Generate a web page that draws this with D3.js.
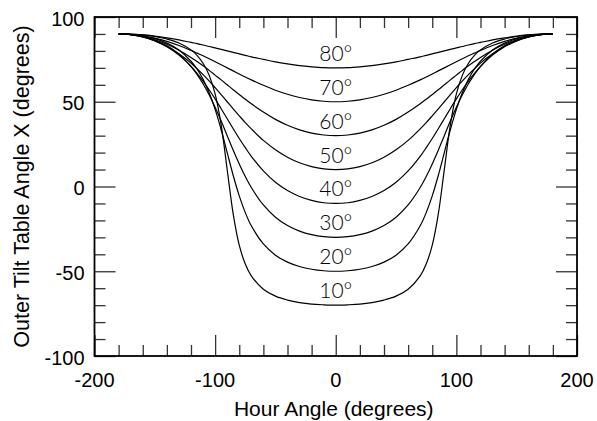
<!DOCTYPE html>
<html>
<head>
<meta charset="utf-8">
<script src="https://cdn.jsdelivr.net/npm/d3@7"></script>
<style>
  html, body { margin: 0; padding: 0; background: #fff; }
  svg { display: block; }
</style>
</head>
<body>
<svg id="chart" width="597" height="421"></svg>
<script>
// ---- data ----
const hourAngle = [-180,-170,-160,-150,-140,-130,-120,-115,-110,-105,-100,-95,-90,-85,-80,-75,-70,-60,-50,-40,-30,-20,-10,0,10,20,30,40,50,60,70,75,80,85,90,95,100,105,110,115,120,130,140,150,160,170,180];
const latitudes = [10, 20, 30, 40, 50, 60, 70, 80];
const lat10 = [90.0,89.8,89.4,88.5,87.0,84.7,80.6,77.4,72.7,65.7,54.6,36.3,10.0,-16.3,-34.6,-45.7,-52.7,-60.6,-64.7,-67.0,-68.5,-69.4,-69.8,-70.0,-69.8,-69.4,-68.5,-67.0,-64.7,-60.6,-52.7,-45.7,-34.6,-16.3,10.0,36.3,54.6,65.7,72.7,77.4,80.6,84.7,87.0,88.5,89.4,89.8,90.0];
const lat20 = [90.0,89.7,88.8,87.2,84.6,80.5,73.9,69.3,63.2,55.4,45.5,33.5,20.0,6.5,-5.5,-15.4,-23.2,-33.9,-40.5,-44.6,-47.2,-48.8,-49.7,-50.0,-49.7,-48.8,-47.2,-44.6,-40.5,-33.9,-23.2,-15.4,-5.5,6.5,20.0,33.5,45.5,55.4,63.2,69.3,73.9,80.5,84.6,87.2,88.8,89.7,90.0];
const lat30 = [90.0,89.6,88.4,86.3,83.0,78.1,70.9,66.2,60.6,54.1,46.7,38.6,30.0,21.4,13.3,5.9,-0.6,-10.9,-18.1,-23.0,-26.3,-28.4,-29.6,-30.0,-29.6,-28.4,-26.3,-23.0,-18.1,-10.9,-0.6,5.9,13.3,21.4,30.0,38.6,46.7,54.1,60.6,66.2,70.9,78.1,83.0,86.3,88.4,89.6,90.0];
const lat40 = [90.0,89.6,88.2,85.9,82.4,77.5,70.8,66.7,62.2,57.1,51.7,45.9,40.0,34.1,28.3,22.9,17.8,9.2,2.5,-2.4,-5.9,-8.2,-9.6,-10.0,-9.6,-8.2,-5.9,-2.4,2.5,9.2,17.8,22.9,28.3,34.1,40.0,45.9,51.7,57.1,62.2,66.7,70.8,77.5,82.4,85.9,88.2,89.6,90.0];
const lat50 = [90.0,89.6,88.3,86.0,82.7,78.3,72.8,69.5,66.0,62.3,58.3,54.2,50.0,45.8,41.7,37.7,34.0,27.2,21.7,17.3,14.0,11.7,10.4,10.0,10.4,11.7,14.0,17.3,21.7,27.2,34.0,37.7,41.7,45.8,50.0,54.2,58.3,62.3,66.0,69.5,72.8,78.3,82.7,86.0,88.3,89.6,90.0];
const lat60 = [90.0,89.6,88.5,86.6,83.9,80.4,76.1,73.7,71.2,68.5,65.7,62.9,60.0,57.1,54.3,51.5,48.8,43.9,39.6,36.1,33.4,31.5,30.4,30.0,30.4,31.5,33.4,36.1,39.6,43.9,48.8,51.5,54.3,57.1,60.0,62.9,65.7,68.5,71.2,73.7,76.1,80.4,83.9,86.6,88.5,89.6,90.0];
const lat70 = [90.0,89.7,88.9,87.5,85.6,83.2,80.3,78.7,77.1,75.4,73.6,71.8,70.0,68.2,66.4,64.6,62.9,59.7,56.8,54.4,52.5,51.1,50.3,50.0,50.3,51.1,52.5,54.4,56.8,59.7,62.9,64.6,66.4,68.2,70.0,71.8,73.6,75.4,77.1,78.7,80.3,83.2,85.6,87.5,88.9,89.7,90.0];
const lat80 = [90.0,89.9,89.4,88.7,87.7,86.5,85.0,84.3,83.5,82.6,81.8,80.9,80.0,79.1,78.2,77.4,76.5,75.0,73.5,72.3,71.3,70.6,70.1,70.0,70.1,70.6,71.3,72.3,73.5,75.0,76.5,77.4,78.2,79.1,80.0,80.9,81.8,82.6,83.5,84.3,85.0,86.5,87.7,88.7,89.4,89.9,90.0];
const seriesValues = [lat10, lat20, lat30, lat40, lat50, lat60, lat70, lat80];
const curveLabels = ["10°","20°","30°","40°","50°","60°","70°","80°"];
const xMajorTicks = [-200, -100, 0, 100, 200];
const xMinorTicks = [-180,-160,-140,-120,-80,-60,-40,-20,20,40,60,80,120,140,160,180];
const yMajorTicks = [-100, -50, 0, 50, 100];
const yMinorTicks = [-90,-80,-70,-60,-40,-30,-20,-10,10,20,30,40,60,70,80,90];
const xTitle = "Hour Angle (degrees)";
const yTitle = "Outer Tilt Table Angle X (degrees)";

// ---- layout ----
const L = 94.5, R = 577, T = 17, B = 356;
const svg = d3.select("#chart");
const x = d3.scaleLinear().domain([-200, 200]).range([L, R]);
const y = d3.scaleLinear().domain([-100, 100]).range([B, T]);

const tickColor = "#333";
function styleAxis(g) {
  g.select(".domain").remove();
  g.selectAll(".tick line").attr("stroke", tickColor).attr("stroke-width", 1.3);
  g.selectAll(".tick text").remove();
}
const MAJ = 21, MIN = 11;
// bottom & top ticks (inward)
svg.append("g").attr("transform", `translate(0,${B})`).call(d3.axisBottom(x).tickValues(xMajorTicks).tickSize(-MAJ)).call(styleAxis);
svg.append("g").attr("transform", `translate(0,${B})`).call(d3.axisBottom(x).tickValues(xMinorTicks).tickSize(-MIN)).call(styleAxis);
svg.append("g").attr("transform", `translate(0,${T})`).call(d3.axisTop(x).tickValues(xMajorTicks).tickSize(-MAJ)).call(styleAxis);
svg.append("g").attr("transform", `translate(0,${T})`).call(d3.axisTop(x).tickValues(xMinorTicks).tickSize(-MIN)).call(styleAxis);
// left & right ticks (inward)
svg.append("g").attr("transform", `translate(${L},0)`).call(d3.axisLeft(y).tickValues(yMajorTicks).tickSize(-MAJ)).call(styleAxis);
svg.append("g").attr("transform", `translate(${L},0)`).call(d3.axisLeft(y).tickValues(yMinorTicks).tickSize(-MIN)).call(styleAxis);
svg.append("g").attr("transform", `translate(${R},0)`).call(d3.axisRight(y).tickValues(yMajorTicks).tickSize(-MAJ)).call(styleAxis);
svg.append("g").attr("transform", `translate(${R},0)`).call(d3.axisRight(y).tickValues(yMinorTicks).tickSize(-MIN)).call(styleAxis);

// frame
svg.append("rect").attr("x", L).attr("y", T).attr("width", R - L).attr("height", B - T)
  .attr("fill", "none").attr("stroke", "#000").attr("stroke-width", 1.8);

// tick labels
const font = "'Liberation Sans', Arial, Helvetica, sans-serif";
svg.append("g").selectAll("text").data(xMajorTicks).join("text")
  .attr("x", d => x(d)).attr("y", B + 31).attr("text-anchor", "middle")
  .attr("font-family", font).attr("font-size", 20).attr("fill", "#000").text(d => d);
svg.append("g").selectAll("text").data(yMajorTicks).join("text")
  .attr("x", L - 10).attr("y", d => y(d) + 8.5).attr("text-anchor", "end")
  .attr("font-family", font).attr("font-size", 20).attr("fill", "#000").text(d => d);

// axis titles
svg.append("text").attr("x", (L + R) / 2 - 2).attr("y", 416).attr("text-anchor", "middle")
  .attr("font-family", font).attr("font-size", 21).attr("fill", "#000").text(xTitle);
svg.append("text").attr("transform", `translate(29,${(T + B) / 2}) rotate(-90)`).attr("text-anchor", "middle")
  .attr("font-family", font).attr("font-size", 21.5).attr("fill", "#000").text(yTitle);

// curves
const line = d3.line().x((d, i) => x(hourAngle[i])).y(d => y(d)).curve(d3.curveCatmullRom.alpha(0.5));
svg.append("g").selectAll("path").data(seriesValues).join("path")
  .attr("d", d => line(d)).attr("fill", "none").attr("stroke", "#000").attr("stroke-width", 1.2);

// curve labels at hour angle 0
const i0 = hourAngle.indexOf(0);
svg.append("g").selectAll("text").data(seriesValues).join("text")
  .attr("x", x(0)).attr("y", d => y(d[i0]) - 7).attr("text-anchor", "middle")
  .attr("font-family", "Lato, 'Open Sans', sans-serif").attr("font-weight", 300)
  .attr("font-size", 21).attr("fill", "#000").text((d, i) => curveLabels[i]);
</script>
</body>
</html>
